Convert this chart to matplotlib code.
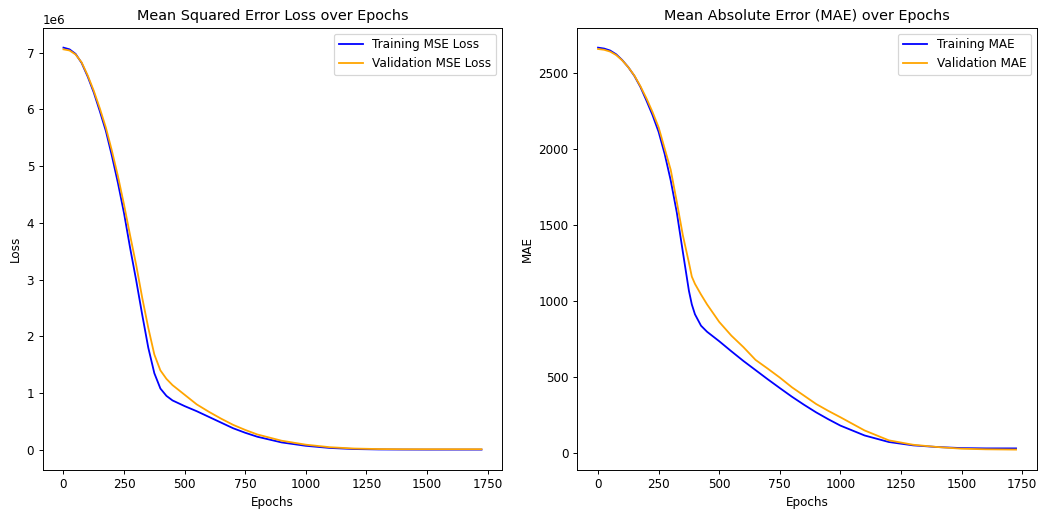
import numpy as np
import matplotlib
matplotlib.use("Agg")
import matplotlib.pyplot as plt

# MSE values (units of 1e6)
mse_epochs = [0, 25, 50, 75, 100, 125, 150, 175, 200, 225, 250, 275, 300, 325, 350, 375,
              400, 425, 450, 500, 550, 600, 650, 700, 750, 800, 900, 1000, 1100, 1200,
              1300, 1400, 1500, 1600, 1725]
train_mse = [7.09, 7.06, 6.98, 6.82, 6.58, 6.30, 5.97, 5.62, 5.18, 4.70, 4.17, 3.56, 2.99,
             2.38, 1.80, 1.35, 1.08, 0.95, 0.87, 0.77, 0.68, 0.58, 0.48, 0.38, 0.30, 0.23,
             0.13, 0.07, 0.032, 0.013, 0.006, 0.004, 0.003, 0.003, 0.003]
val_mse = [7.06, 7.04, 6.97, 6.83, 6.60, 6.33, 6.02, 5.68, 5.27, 4.82, 4.32, 3.78, 3.26,
           2.68, 2.15, 1.68, 1.40, 1.25, 1.14, 0.97, 0.80, 0.67, 0.55, 0.44, 0.35, 0.27,
           0.16, 0.09, 0.045, 0.022, 0.013, 0.01, 0.01, 0.01, 0.01]

# MAE values
mae_epochs = [0, 25, 50, 75, 100, 125, 150, 175, 200, 225, 250, 275, 300, 325, 350, 375,
              387, 400, 425, 450, 500, 550, 600, 650, 700, 750, 800, 850, 900, 950, 1000,
              1100, 1200, 1300, 1400, 1500, 1600, 1725]
train_mae = [2664, 2658, 2645, 2620, 2582, 2535, 2478, 2405, 2315, 2220, 2110, 1965, 1790,
             1580, 1320, 1065, 975, 910, 835, 795, 733, 667, 603, 543, 483, 425, 368, 315,
             265, 220, 178, 113, 70, 48, 37, 30, 28, 28]
val_mae = [2655, 2650, 2638, 2615, 2580, 2535, 2480, 2410, 2330, 2240, 2140, 2000, 1860,
           1650, 1430, 1250, 1158, 1110, 1040, 975, 860, 770, 694, 610, 553, 494, 430, 375,
           320, 275, 233, 146, 81, 52, 37, 26, 22, 20]

mse_epochs = np.array(mse_epochs)
train_mse = np.array(train_mse) * 1e6
val_mse = np.array(val_mse) * 1e6

fig = plt.figure(figsize=(1038 / 86.5, 510 / 86.5), dpi=86.5)
ax1 = fig.add_axes([0.041, 0.079, 0.443, 0.867])
ax2 = fig.add_axes([0.556, 0.079, 0.443, 0.867])

ax1.plot(mse_epochs, train_mse, color="blue", label="Training MSE Loss")
ax1.plot(mse_epochs, val_mse, color="orange", label="Validation MSE Loss")
ax1.set_title("Mean Squared Error Loss over Epochs")
ax1.set_xlabel("Epochs")
ax1.set_ylabel("Loss")
ax1.legend(loc="upper right")

ax2.plot(mae_epochs, train_mae, color="blue", label="Training MAE")
ax2.plot(mae_epochs, val_mae, color="orange", label="Validation MAE")
ax2.set_title("Mean Absolute Error (MAE) over Epochs")
ax2.set_xlabel("Epochs")
ax2.set_ylabel("MAE")
ax2.legend(loc="upper right")

fig.savefig("out.png", dpi=86.5)
